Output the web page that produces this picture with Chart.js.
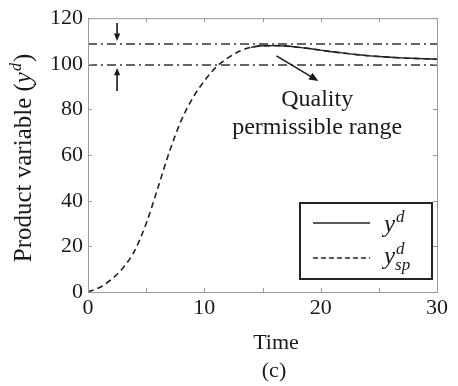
<!DOCTYPE html>
<html>
<head>
<meta charset="utf-8">
<script src="https://cdn.jsdelivr.net/npm/chart.js@4.4.1/dist/chart.umd.min.js"></script>
<style>
  html, body { margin: 0; padding: 0; background: #fff; }
  #wrap { width: 458px; height: 386px; position: relative; }
</style>
</head>
<body>
<div id="wrap"><canvas id="chart"></canvas></div>
<script>
// data
const times = [0, 1, 2, 3, 4, 5, 6, 7, 8, 9, 10, 11, 12, 13, 14, 15, 16, 17, 18, 19, 20, 21, 22, 23, 24, 25, 26, 27, 28, 29, 30];
const ySetpoint = [0, 2, 5.5, 10.5, 18, 30, 45.5, 61.5, 75, 85, 92.5, 98.5, 102.5, 105.5, 107.2, 107.9, 108, 107.8, 107.3, 106.7, 106, 105.3, 104.7, 104.1, 103.6, 103.2, 102.9, 102.6, 102.4, 102.2, 102];
const yProduct = [null, null, null, null, null, null, null, null, null, null, null, null, null, null, 107.2, 107.9, 108, 107.8, 107.3, 106.7, 106, 105.3, 104.7, 104.1, 103.6, 103.2, 102.9, 102.6, 102.4, 102.2, 102];
const bandUpper = 108.7;
const bandLower = 99.5;
const xTicks = [0, 10, 20, 30];
const yTicks = [0, 20, 40, 60, 80, 100, 120];

const SERIF = '"Liberation Serif", "DejaVu Serif", serif';
const INK = '#1a1a1a';

function pts(ys) {
  return times.map((t, i) => ({ x: t, y: ys[i] }));
}

function arrow(ctx, x1, y1, x2, y2, head) {
  const a = Math.atan2(y2 - y1, x2 - x1);
  ctx.beginPath();
  ctx.moveTo(x1, y1);
  ctx.lineTo(x2 - Math.cos(a) * head * 0.8, y2 - Math.sin(a) * head * 0.8);
  ctx.stroke();
  ctx.beginPath();
  ctx.moveTo(x2, y2);
  ctx.lineTo(x2 - head * Math.cos(a - 0.4), y2 - head * Math.sin(a - 0.4));
  ctx.lineTo(x2 - head * Math.cos(a + 0.4), y2 - head * Math.sin(a + 0.4));
  ctx.closePath();
  ctx.fill();
}

// y with super/subscripts
function yLabel(ctx, x, y, sup, sub, size) {
  ctx.font = 'italic ' + size + 'px ' + SERIF;
  ctx.fillText('y', x, y);
  const w = ctx.measureText('y').width;
  ctx.font = 'italic ' + Math.round(size * 0.68) + 'px ' + SERIF;
  if (sup) ctx.fillText(sup, x + w + 1, y - size * 0.42);
  if (sub) ctx.fillText(sub, x + w, y + size * 0.25);
}

const decor = {
  id: 'decor',
  afterDraw(chart) {
    const ctx = chart.ctx;
    const a = chart.chartArea;
    const sx = chart.scales.x, sy = chart.scales.y;
    ctx.save();

    // frame
    ctx.strokeStyle = '#9a9a9a';
    ctx.lineWidth = 1;
    ctx.strokeRect(a.left + 0.5, a.top + 0.5, a.right - a.left, a.bottom - a.top);

    // inward ticks, both sides
    ctx.beginPath();
    for (let t = 0; t <= 30; t += 5) {
      const px = Math.round(sx.getPixelForValue(t)) + 0.5;
      ctx.moveTo(px, a.bottom); ctx.lineTo(px, a.bottom - 4);
      ctx.moveTo(px, a.top); ctx.lineTo(px, a.top + 4);
    }
    yTicks.forEach(v => {
      const py = Math.round(sy.getPixelForValue(v)) + 0.5;
      ctx.moveTo(a.left, py); ctx.lineTo(a.left + 4, py);
      ctx.moveTo(a.right, py); ctx.lineTo(a.right - 4, py);
    });
    ctx.stroke();

    // arrows marking the band
    ctx.strokeStyle = INK;
    ctx.fillStyle = INK;
    ctx.lineWidth = 1.6;
    const ax = sx.getPixelForValue(2.5);
    arrow(ctx, ax, sy.getPixelForValue(bandUpper) - 21, ax, sy.getPixelForValue(bandUpper) - 3, 8);
    arrow(ctx, ax, sy.getPixelForValue(bandLower) + 26, ax, sy.getPixelForValue(bandLower) + 3, 8);
    arrow(ctx, sx.getPixelForValue(16.2), sy.getPixelForValue(103.5), sx.getPixelForValue(19.8), sy.getPixelForValue(92.5), 10);

    // annotation text
    ctx.fillStyle = INK;
    ctx.textAlign = 'center';
    ctx.textBaseline = 'middle';
    ctx.font = '24px ' + SERIF;
    const qx = sx.getPixelForValue(19.7);
    ctx.fillText('Quality', qx, 100);
    ctx.fillText('permissible range', qx, 128);

    // axis titles
    ctx.font = '22px ' + SERIF;
    ctx.fillText('Time', 276, 343);
    ctx.fillText('(c)', 274, 371);

    ctx.save();
    ctx.translate(31, 158);
    ctx.rotate(-Math.PI / 2);
    ctx.textAlign = 'left';
    ctx.textBaseline = 'alphabetic';
    const p1 = 'Product variable (';
    ctx.font = '25px ' + SERIF;
    const w1 = ctx.measureText(p1).width;
    ctx.font = 'italic 25px ' + SERIF;
    const wy = ctx.measureText('y').width;
    ctx.font = 'italic 16px ' + SERIF;
    const wd = ctx.measureText('d').width;
    ctx.font = '25px ' + SERIF;
    const wp = ctx.measureText(')').width;
    let x0 = -(w1 + wy + wd + wp + 2) / 2;
    ctx.fillText(p1, x0, 0); x0 += w1;
    ctx.font = 'italic 25px ' + SERIF;
    ctx.fillText('y', x0, 0); x0 += wy + 1;
    ctx.font = 'italic 16px ' + SERIF;
    ctx.fillText('d', x0, -10); x0 += wd + 1;
    ctx.font = '25px ' + SERIF;
    ctx.fillText(')', x0, 0);
    ctx.restore();

    // legend box
    const lx = a.right - 137, ly = a.bottom - 89, lw = 132, lh = 76;
    ctx.strokeStyle = '#222';
    ctx.lineWidth = 2;
    ctx.strokeRect(lx, ly, lw, lh);
    ctx.lineWidth = 1.5;
    ctx.beginPath();
    ctx.moveTo(lx + 13, ly + 20); ctx.lineTo(lx + 70, ly + 20);
    ctx.stroke();
    ctx.setLineDash([5, 3]);
    ctx.beginPath();
    ctx.moveTo(lx + 13, ly + 55); ctx.lineTo(lx + 70, ly + 55);
    ctx.stroke();
    ctx.setLineDash([]);
    ctx.textAlign = 'left';
    ctx.textBaseline = 'alphabetic';
    ctx.fillStyle = INK;
    yLabel(ctx, lx + 84, ly + 29, 'd', null, 25);
    yLabel(ctx, lx + 84, ly + 61, 'd', 'sp', 25);

    ctx.restore();
  }
};

const bandStyle = {
  borderColor: '#333',
  borderWidth: 1.6,
  borderDash: [9, 4, 2, 4],
  pointRadius: 0,
  fill: false
};

new Chart(document.getElementById('chart'), {
  type: 'line',
  data: {
    datasets: [
      Object.assign({ label: 'upper', data: [{ x: 0, y: bandUpper }, { x: 30, y: bandUpper }] }, bandStyle),
      Object.assign({ label: 'lower', data: [{ x: 0, y: bandLower }, { x: 30, y: bandLower }] }, bandStyle),
      {
        label: 'y_sp^d',
        data: pts(ySetpoint),
        borderColor: '#222',
        borderWidth: 1.6,
        borderDash: [6, 4],
        pointRadius: 0,
        cubicInterpolationMode: 'monotone',
        fill: false
      },
      {
        label: 'y^d',
        data: pts(yProduct),
        borderColor: '#222',
        borderWidth: 1.4,
        pointRadius: 0,
        cubicInterpolationMode: 'monotone',
        spanGaps: false,
        fill: false
      }
    ]
  },
  options: {
    responsive: true,
    maintainAspectRatio: false,
    animation: false,
    layout: { padding: { left: 0, right: 21, top: 18, bottom: 0 } },
    plugins: { legend: { display: false }, tooltip: { enabled: false } },
    scales: {
      x: {
        type: 'linear',
        min: 0,
        max: 30,
        afterFit: s => { s.height = 94; },
        afterBuildTicks: s => { s.ticks = xTicks.map(v => ({ value: v })); },
        grid: { display: false, drawTicks: false },
        border: { color: '#9a9a9a' },
        ticks: { color: INK, padding: 3, font: { family: SERIF, size: 22 } }
      },
      y: {
        min: 0,
        max: 120,
        afterFit: s => { s.width = 88; },
        afterBuildTicks: s => { s.ticks = yTicks.map(v => ({ value: v })); },
        grid: { display: false, drawTicks: false },
        border: { color: '#9a9a9a' },
        ticks: { color: INK, padding: 5, font: { family: SERIF, size: 22 } }
      }
    }
  },
  plugins: [decor]
});
</script>
</body>
</html>
